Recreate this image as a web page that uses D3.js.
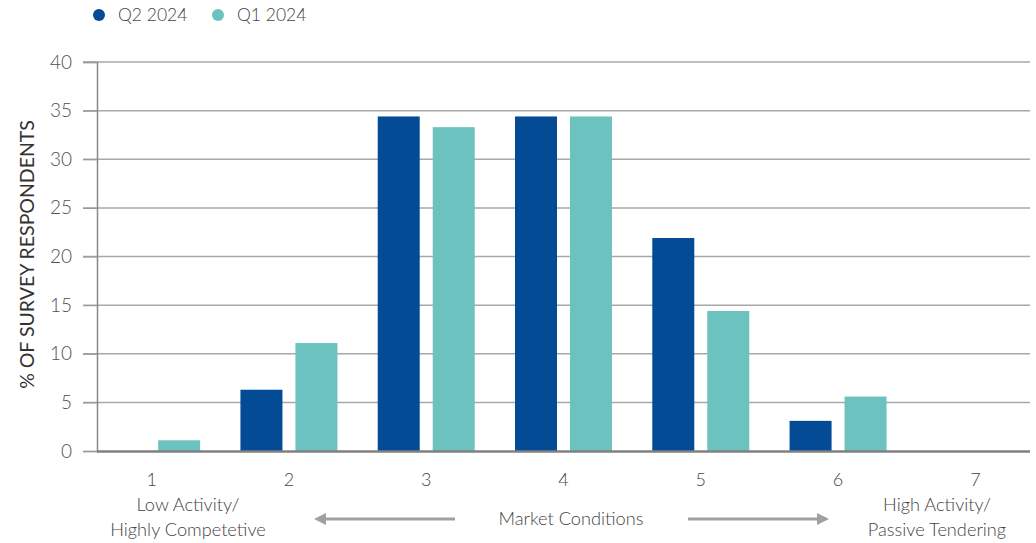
<!DOCTYPE html>
<html>
<head>
<meta charset="utf-8">
<script src="https://cdn.jsdelivr.net/npm/d3@7"></script>
<style>
  html, body { margin: 0; padding: 0; background: #fff; }
  svg { display: block; font-family: Lato, "Open Sans", sans-serif; }
</style>
</head>
<body>
<svg id="chart" width="1036" height="543"></svg>
<script>
// chart data
const categories = ['1', '2', '3', '4', '5', '6', '7'];
const seriesNames = ['Q2 2024', 'Q1 2024'];
const q2Values = [0, 6.3, 34.4, 34.4, 21.9, 3.1, 0];
const q1Values = [1.1, 11.1, 33.3, 34.4, 14.4, 5.6, 0];
const yTicks = [0, 5, 10, 15, 20, 25, 30, 35, 40];
const colors = { 'Q2 2024': '#034b94', 'Q1 2024': '#6cc2bf' };

const rows = categories.map((c, i) => ({
    cat: c,
    values: [
        { key: 'Q2 2024', value: q2Values[i] },
        { key: 'Q1 2024', value: q1Values[i] }
    ]
}));

const svg = d3.select('#chart');
const plotLeft = 97, plotRight = 1030, plotTop = 62, plotBottom = 451;

const x = d3.scaleBand()
    .domain(categories)
    .range([83, 1044])
    .paddingInner(0.2935)
    .paddingOuter(0.2935 / 2);

const x1 = d3.scaleBand()
    .domain(seriesNames)
    .range([0, x.bandwidth()])
    .paddingInner(0.2364);

const y = d3.scaleLinear()
    .domain([0, 40])
    .range([plotBottom, plotTop]);

// gridlines
svg.append('g')
    .selectAll('line')
    .data(yTicks.filter(t => t > 0))
    .join('line')
    .attr('x1', 83)
    .attr('x2', plotRight)
    .attr('y1', d => y(d))
    .attr('y2', d => y(d))
    .attr('stroke', '#a8a8a8')
    .attr('stroke-width', 1.5);

// y axis
const yAxis = svg.append('g')
    .attr('transform', `translate(${plotLeft},0)`)
    .call(d3.axisLeft(y).tickValues(yTicks).tickSize(14).tickPadding(11));
yAxis.select('.domain').attr('stroke', '#888').attr('stroke-width', 1.5);
yAxis.selectAll('.tick line').attr('stroke', '#999').attr('stroke-width', 1.2);
yAxis.selectAll('.tick text')
    .attr('fill', '#505050')
    .attr('font-size', 19)
    .attr('font-weight', 300)
    .attr('font-family', 'Lato, sans-serif');

// bars
const groups = svg.append('g')
    .selectAll('g')
    .data(rows)
    .join('g')
    .attr('transform', d => `translate(${x(d.cat)},0)`);

groups.selectAll('rect')
    .data(d => d.values)
    .join('rect')
    .attr('x', d => x1(d.key))
    .attr('width', x1.bandwidth())
    .attr('y', d => y(d.value))
    .attr('height', d => y(0) - y(d.value))
    .attr('fill', d => colors[d.key]);

// baseline
svg.append('line')
    .attr('x1', plotLeft)
    .attr('x2', plotRight)
    .attr('y1', y(0) + 0.5)
    .attr('y2', y(0) + 0.5)
    .attr('stroke', '#808080')
    .attr('stroke-width', 2.5);

// x category labels
svg.append('g')
    .selectAll('text')
    .data(categories)
    .join('text')
    .attr('x', d => x(d) + x.bandwidth() / 2)
    .attr('y', 486)
    .attr('text-anchor', 'middle')
    .attr('font-size', 18)
    .attr('font-weight', 300)
    .attr('fill', '#444')
    .text(d => d);

// y axis title
svg.append('text')
    .attr('transform', `translate(34,${(plotTop + plotBottom) / 2 - 2}) rotate(-90)`)
    .attr('text-anchor', 'middle')
    .attr('font-size', 19.5)
    .attr('fill', '#333')
    .text('% OF SURVEY RESPONDENTS');

// bottom annotations
const note = svg.append('g')
    .attr('font-size', 18.2)
    .attr('font-weight', 300)
    .attr('fill', '#444')
    .attr('text-anchor', 'middle');
note.append('text').attr('x', 188).attr('y', 511).text('Low Activity/');
note.append('text').attr('x', 188).attr('y', 536).text('Highly Competetive');
note.append('text').attr('x', 571).attr('y', 525).text('Market Conditions');
note.append('text').attr('x', 937).attr('y', 511).text('High Activity/');
note.append('text').attr('x', 937).attr('y', 536).text('Passive Tendering');

const defs = svg.append('defs');
defs.append('marker')
    .attr('id', 'arrow')
    .attr('viewBox', '0 0 10 10')
    .attr('refX', 5)
    .attr('refY', 5)
    .attr('markerWidth', 4)
    .attr('markerHeight', 4)
    .attr('orient', 'auto')
    .append('path')
    .attr('d', 'M0,0 L10,5 L0,10 z')
    .attr('fill', '#a0a0a0');

svg.append('line')
    .attr('x1', 455).attr('x2', 320)
    .attr('y1', 519).attr('y2', 519)
    .attr('stroke', '#a0a0a0').attr('stroke-width', 3)
    .attr('marker-end', 'url(#arrow)');
svg.append('line')
    .attr('x1', 688).attr('x2', 823)
    .attr('y1', 519).attr('y2', 519)
    .attr('stroke', '#a0a0a0').attr('stroke-width', 3)
    .attr('marker-end', 'url(#arrow)');

// legend
const legend = svg.append('g')
    .selectAll('g')
    .data(seriesNames)
    .join('g')
    .attr('transform', (d, i) => `translate(${99 + i * 119},15)`);
legend.append('circle')
    .attr('r', 6)
    .attr('fill', d => colors[d]);
legend.append('text')
    .attr('x', 19)
    .attr('y', 6)
    .attr('font-size', 17.5)
    .attr('font-weight', 300)
    .attr('fill', '#444')
    .text(d => d);
</script>
</body>
</html>
